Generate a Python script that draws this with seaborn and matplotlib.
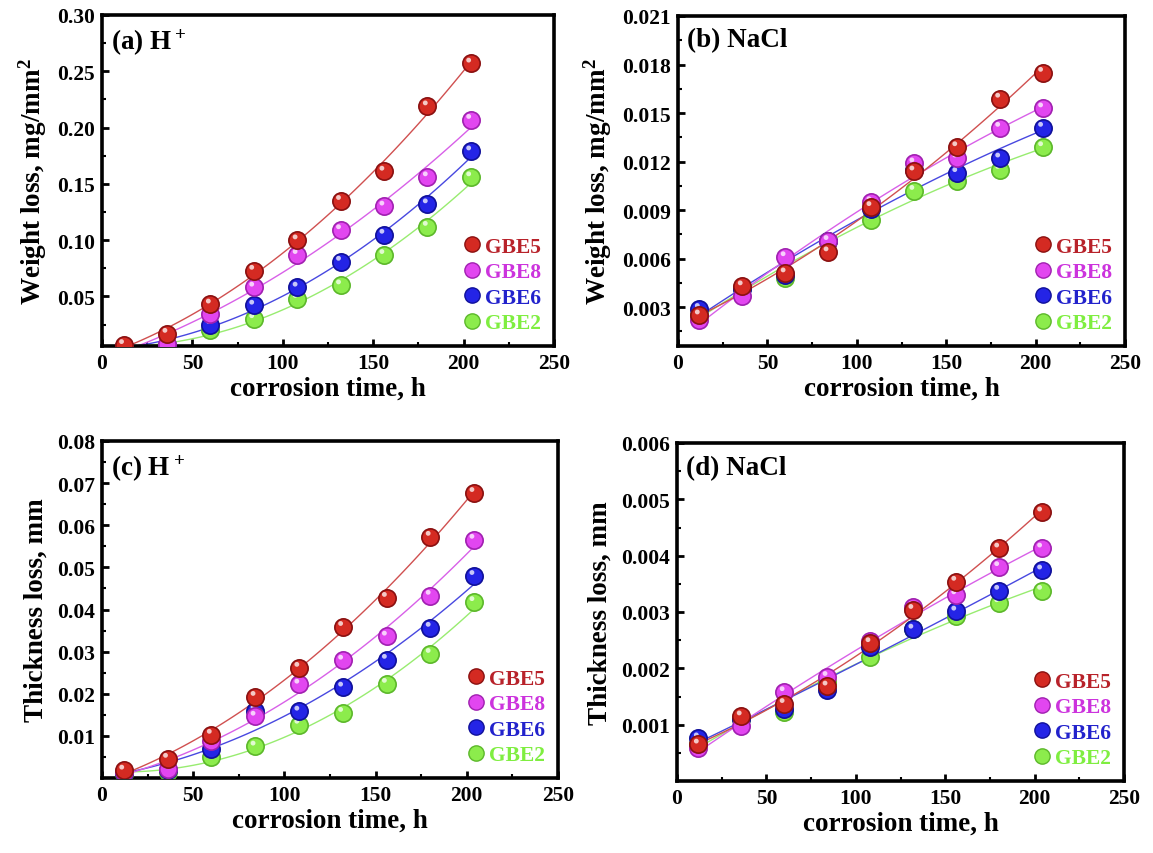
import numpy as np
import pandas as pd
import matplotlib
matplotlib.use("Agg")
import matplotlib.pyplot as plt
from matplotlib.path import Path
from matplotlib.lines import Line2D
from matplotlib.ticker import MultipleLocator, FormatStrFormatter, FixedLocator
import seaborn as sns

# ---------------- data ----------------
time_h = [12, 36, 60, 84, 108, 132, 156, 180, 204]
series = ["GBE5", "GBE8", "GBE6", "GBE2"]

wl_h_gbe5 = [0.007, 0.017, 0.043, 0.073, 0.100, 0.135, 0.161, 0.219, 0.257]
wl_h_gbe8 = [0.006, 0.008, 0.034, 0.058, 0.087, 0.109, 0.130, 0.156, 0.207]
wl_h_gbe6 = [0.005, 0.007, 0.025, 0.042, 0.058, 0.081, 0.105, 0.132, 0.179]
wl_h_gbe2 = [0.004, 0.006, 0.020, 0.030, 0.048, 0.060, 0.087, 0.112, 0.156]

wl_n_gbe5 = [0.0025, 0.0043, 0.0051, 0.0064, 0.0092, 0.0114, 0.0129, 0.0159, 0.0175]
wl_n_gbe8 = [0.0022, 0.0037, 0.0061, 0.0071, 0.0095, 0.0119, 0.0122, 0.0141, 0.0153]
wl_n_gbe6 = [0.0029, 0.0041, 0.0050, 0.0071, 0.0091, 0.0115, 0.0113, 0.0122, 0.0141]
wl_n_gbe2 = [0.0025, 0.0042, 0.0048, 0.0071, 0.0084, 0.0102, 0.0108, 0.0115, 0.0129]

tl_h_gbe5 = [0.0018, 0.0046, 0.0103, 0.0193, 0.0262, 0.0359, 0.0428, 0.0573, 0.0677]
tl_h_gbe8 = [0.0015, 0.0022, 0.0089, 0.0146, 0.0222, 0.0279, 0.0336, 0.0433, 0.0566]
tl_h_gbe6 = [0.0012, 0.0020, 0.0068, 0.0160, 0.0158, 0.0215, 0.0281, 0.0357, 0.0480]
tl_h_gbe2 = [0.0010, 0.0015, 0.0049, 0.0075, 0.0127, 0.0155, 0.0224, 0.0295, 0.0418]

tl_n_gbe5 = [0.00065, 0.00115, 0.00137, 0.00168, 0.00245, 0.00304, 0.00354, 0.00413, 0.00477]
tl_n_gbe8 = [0.00058, 0.00097, 0.00158, 0.00185, 0.00248, 0.00309, 0.00330, 0.00380, 0.00413]
tl_n_gbe6 = [0.00076, 0.00110, 0.00127, 0.00161, 0.00238, 0.00269, 0.00301, 0.00338, 0.00374]
tl_n_gbe2 = [0.00066, 0.00110, 0.00122, 0.00176, 0.00220, 0.00269, 0.00293, 0.00316, 0.00338]

panel_titles = ["(a) H$^+$", "(b) NaCl", "(c) H$^+$", "(d) NaCl"]
y_labels = ["Weight loss, mg/mm$^2$", "Weight loss, mg/mm$^2$",
            "Thickness loss, mm", "Thickness loss, mm"]
x_label = "corrosion time, h"

panels = [
    {"GBE5": wl_h_gbe5, "GBE8": wl_h_gbe8, "GBE6": wl_h_gbe6, "GBE2": wl_h_gbe2},
    {"GBE5": wl_n_gbe5, "GBE8": wl_n_gbe8, "GBE6": wl_n_gbe6, "GBE2": wl_n_gbe2},
    {"GBE5": tl_h_gbe5, "GBE8": tl_h_gbe8, "GBE6": tl_h_gbe6, "GBE2": tl_h_gbe2},
    {"GBE5": tl_n_gbe5, "GBE8": tl_n_gbe8, "GBE6": tl_n_gbe6, "GBE2": tl_n_gbe2},
]

# ---------------- style ----------------
sns.set_style("white")
plt.rcParams["font.family"] = ["Liberation Serif", "DejaVu Serif"]
plt.rcParams["font.weight"] = "bold"
plt.rcParams["mathtext.default"] = "regular"
plt.rcParams["axes.labelweight"] = "bold"
plt.rcParams["text.color"] = "black"
plt.rcParams["axes.labelcolor"] = "black"
plt.rcParams["xtick.color"] = "black"
plt.rcParams["ytick.color"] = "black"

face = {"GBE5": "#d42a22", "GBE8": "#e246f0", "GBE6": "#2424e6", "GBE2": "#8cec4c"}
edge = {"GBE5": "#8a1010", "GBE8": "#a020b0", "GBE6": "#10109a", "GBE2": "#5cb82a"}
linec = {"GBE5": "#d05050", "GBE8": "#d860e8", "GBE6": "#4848e0", "GBE2": "#98ec70"}
textc = {"GBE5": "#b8222a", "GBE8": "#cc33dd", "GBE6": "#2222cc", "GBE2": "#7fee40"}

# highlight marker (small shine spot, upper part of sphere)
_c = Path.circle(center=(-0.25, 0.38), radius=0.28)
_b = Path([(-1, -1), (1, 1)], [Path.MOVETO, Path.MOVETO])
shine = Path.make_compound_path(_b, _c)

positions = [
    (102 / 1153, 1 - 347 / 854, 452 / 1153, 331 / 854),
    (678 / 1153, 1 - 347 / 854, 447 / 1153, 330 / 854),
    (102 / 1153, 1 - 779 / 854, 456 / 1153, 337 / 854),
    (677 / 1153, 1 - 782 / 854, 447 / 1153, 338 / 854),
]
ylims = [(0.006, 0.30), (0.0006, 0.021), (0.0, 0.08), (0.0, 0.006)]
yticks = [np.arange(1, 7) * 0.05, np.arange(1, 8) * 0.003,
          np.arange(1, 9) * 0.01, np.arange(1, 7) * 0.001]
yminor = [0.025, 0.0015, 0.005, 0.0005]
yfmt = ["%.2f", "%.3f", "%.2f", "%.3f"]

fig = plt.figure(figsize=(11.53, 8.54), dpi=100)
msize = 155

for i, pdata in enumerate(panels):
    ax = fig.add_axes(positions[i])
    df = pd.DataFrame([
        {"time": t, "loss": v, "sample": s}
        for s in series for t, v in zip(time_h, pdata[s])
    ])
    for s in series[::-1]:
        d = df[df["sample"] == s]
        sns.regplot(data=d, x="time", y="loss", order=2, ci=None, scatter=False,
                    ax=ax, line_kws={"color": linec[s], "lw": 1.0, "zorder": 2})
    for s in series[::-1]:
        d = df[df["sample"] == s]
        sns.scatterplot(data=d, x="time", y="loss", ax=ax, s=msize, marker="o",
                        color=face[s], edgecolor=edge[s], linewidth=1.2, zorder=3)
        sns.scatterplot(data=d, x="time", y="loss", ax=ax, s=msize, marker=shine,
                        color="#ffffff", edgecolor="none", linewidth=0, alpha=0.75,
                        zorder=3)

    ax.set_xlim(0, 250)
    ax.set_ylim(*ylims[i])
    ax.xaxis.set_major_locator(MultipleLocator(50))
    ax.xaxis.set_minor_locator(MultipleLocator(25))
    ax.yaxis.set_major_locator(FixedLocator(yticks[i]))
    ax.yaxis.set_minor_locator(MultipleLocator(yminor[i]))
    ax.yaxis.set_major_formatter(FormatStrFormatter(yfmt[i]))
    ax.tick_params(axis="both", which="major", direction="in", length=5, width=2,
                   labelsize=15.5, pad=5, left=True, bottom=True, colors="black")
    ax.tick_params(axis="both", which="minor", direction="in", length=3, width=1.5,
                   left=True, bottom=True)
    for lab in ax.get_xticklabels() + ax.get_yticklabels():
        lab.set_fontweight("bold")
    for sp in ax.spines.values():
        sp.set_linewidth(2.6)
        sp.set_color("black")
    ax.set_xlabel(x_label, fontsize=19.5, fontweight="bold", labelpad=2, color="black")
    ax.set_ylabel(y_labels[i], fontsize=19.5, fontweight="bold", labelpad=6, color="black")
    ax.text(0.02, 0.965, panel_titles[i], transform=ax.transAxes, fontsize=19.5,
            fontweight="bold", va="top", ha="left", color="black")

    handles = []
    for s in series:
        handles.append(Line2D([], [], ls="none", marker="o", markersize=11,
                              markerfacecolor=face[s], markeredgecolor=edge[s],
                              markeredgewidth=1.0))
    leg = ax.legend(handles, series, loc="lower right", frameon=False,
                    handletextpad=0.1, labelspacing=0.25,
                    borderaxespad=0.2, handlelength=1.0,
                    prop={"weight": "bold", "size": 15.5})
    for t, s in zip(leg.get_texts(), series):
        t.set_color(textc[s])

fig.savefig("out.png", dpi=100)
